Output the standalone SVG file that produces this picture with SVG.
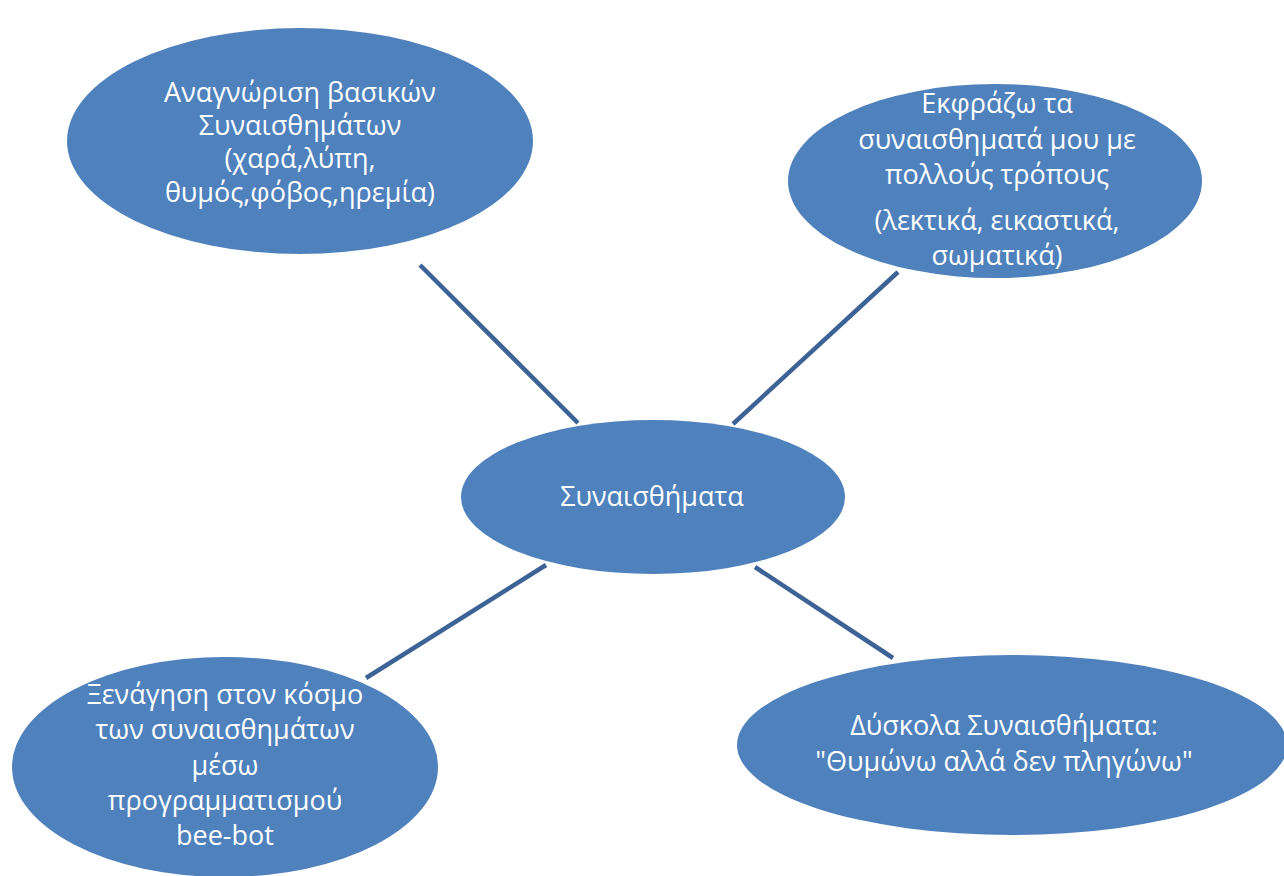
<svg xmlns="http://www.w3.org/2000/svg" width="1284" height="876" viewBox="0 0 1284 876">
<style>
.n{fill:#4f81bd;}
.t{fill:#ffffff;font-family:"Open Sans","Noto Sans","DejaVu Sans",sans-serif;font-size:27px;text-anchor:middle;}
.c{stroke:#3d6396;stroke-width:4.5;fill:none;}
</style>
<rect width="1284" height="876" fill="#ffffff"/>
<g id="connectors">
<line class="c" x1="420" y1="265" x2="578" y2="423"/>
<line class="c" x1="898" y1="272" x2="733" y2="424"/>
<line class="c" x1="546" y1="565" x2="366" y2="678"/>
<line class="c" x1="755" y1="567" x2="893" y2="658"/>
</g>
<g id="n1">
<ellipse class="n" cx="300" cy="141" rx="233" ry="113"/>
<text class="t" x="300" y="102">Αναγνώριση βασικών</text>
<text class="t" x="300" y="135">Συναισθημάτων</text>
<text class="t" x="300" y="168">(χαρά,λύπη,</text>
<text class="t" x="300" y="202">θυμός,φόβος,ηρεμία)</text>
</g>
<g id="n2">
<ellipse class="n" cx="995" cy="181" rx="207" ry="97"/>
<text class="t" x="997" y="113">Εκφράζω τα</text>
<text class="t" x="997" y="149">συναισθηματά μου με</text>
<text class="t" x="997" y="184">πολλούς τρόπους</text>
<text class="t" x="997" y="230">(λεκτικά, εικαστικά,</text>
<text class="t" x="997" y="265">σωματικά)</text>
</g>
<g id="center">
<ellipse class="n" cx="653" cy="497" rx="192" ry="77"/>
<text class="t" x="652" y="506">Συναισθήματα</text>
</g>
<g id="n3">
<ellipse class="n" cx="225" cy="767" rx="213" ry="110"/>
<text class="t" x="225" y="704">Ξενάγηση στον κόσμο</text>
<text class="t" x="225" y="739">των συναισθημάτων</text>
<text class="t" x="225" y="775">μέσω</text>
<text class="t" x="225" y="810">προγραμματισμού</text>
<text class="t" x="225" y="845">bee-bot</text>
</g>
<g id="n4">
<ellipse class="n" cx="1012" cy="745" rx="275" ry="90"/>
<text class="t" x="1004" y="735">Δύσκολα Συναισθήματα:</text>
<text class="t" x="1004" y="771">"Θυμώνω αλλά δεν πληγώνω"</text>
</g>
</svg>
